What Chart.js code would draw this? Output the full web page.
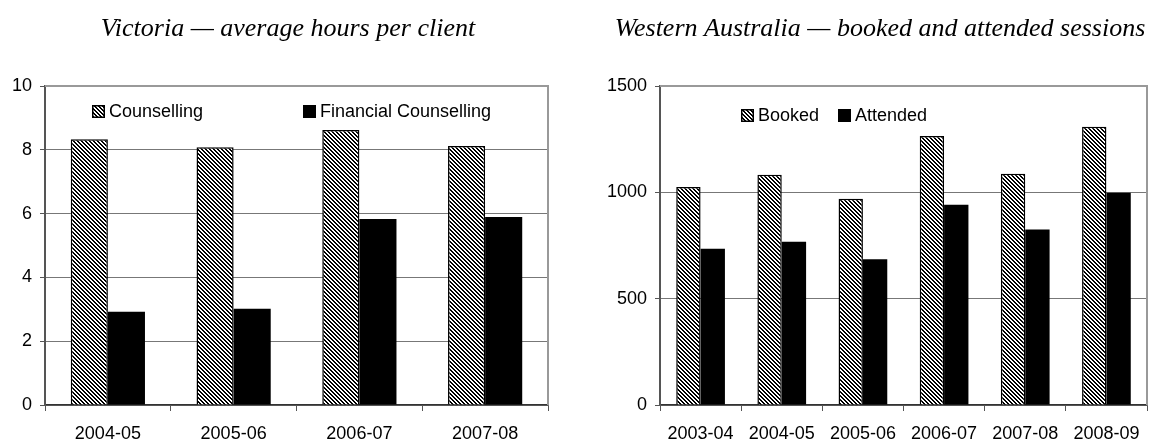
<!DOCTYPE html>
<html><head><meta charset="utf-8">
<script src="https://cdn.jsdelivr.net/npm/chart.js@4.4.0/dist/chart.umd.min.js"></script>
<style>
html,body{margin:0;padding:0;background:#fff;width:1152px;height:445px;overflow:hidden;}
#c1{position:absolute;left:0;top:0;}
#c2{position:absolute;left:576px;top:0;}
</style></head><body>
<canvas id="c1" width="576" height="445"></canvas>
<canvas id="c2" width="576" height="445"></canvas>
<script>
const vicCategories = ['2004-05','2005-06','2006-07','2007-08'];
const vicCounselling = [8.33, 8.08, 8.62, 8.12];
const vicFinancial = [2.92, 3.02, 5.83, 5.89];
const vicTicks = [0, 2, 4, 6, 8, 10];
const vicTitle = 'Victoria — average hours per client';
const vicLabels = ['Counselling', 'Financial Counselling'];

const waCategories = ['2003-04','2004-05','2005-06','2006-07','2007-08','2008-09'];
const waBooked = [1025, 1083, 970, 1265, 1087, 1308];
const waAttended = [735, 768, 685, 942, 825, 998];
const waTicks = [0, 500, 1000, 1500];
const waTitle = 'Western Australia — booked and attended sessions';
const waLabels = ['Booked', 'Attended'];

const SANS = '"Liberation Sans", Arial, sans-serif';
const SERIF = '"Liberation Serif", "Times New Roman", serif';

function hatch(ctx){
  const c = document.createElement('canvas'); c.width = 4; c.height = 4;
  const x = c.getContext('2d'); const img = x.createImageData(4,4);
  for (let j=0;j<4;j++) for (let i=0;i<4;i++){
    const k=(j*4+i)*4; const black=((i-j)%4+4)%4<2; const v=black?0:255;
    img.data[k]=v; img.data[k+1]=v; img.data[k+2]=v; img.data[k+3]=255;
  }
  x.putImageData(img,0,0);
  return ctx.createPattern(c,'repeat');
}

const framePlugin = {
  id: 'frame',
  beforeDatasetsDraw(chart){
    const {ctx, chartArea:a} = chart;
    ctx.save(); ctx.strokeStyle = '#999'; ctx.lineWidth = 2;
    ctx.beginPath(); ctx.moveTo(a.left, a.top); ctx.lineTo(a.right, a.top); ctx.lineTo(a.right, a.bottom); ctx.stroke();
    ctx.restore();
  }
};

const titlePlugin = {
  id: 'sideTitle',
  afterDraw(chart, args, opts){
    const ctx = chart.ctx; ctx.save();
    ctx.font = 'italic 26px ' + SERIF; ctx.fillStyle = '#000';
    ctx.textAlign = 'center'; ctx.textBaseline = 'alphabetic';
    ctx.fillText(opts.text, opts.cx, opts.baseline);
    ctx.restore();
  }
};

const legendPlugin = {
  id: 'inLegend',
  afterDraw(chart, args, opts){
    const ctx = chart.ctx; ctx.save();
    ctx.font = '18px ' + SANS; ctx.textBaseline = 'middle';
    chart.data.datasets.forEach((ds,i)=>{
      const x = opts.xs[i], y = opts.y;
      ctx.fillStyle = ds.backgroundColor; ctx.fillRect(x, y, 13, 13);
      ctx.lineWidth = 1.5; ctx.strokeStyle = '#000'; ctx.strokeRect(x+0.75, y+0.75, 11.5, 11.5);
      ctx.fillStyle = '#000'; ctx.fillText(ds.label, x+17, y+7);
    });
    ctx.restore();
  }
};

function makeChart(id, cats, s1, s2, labels, ticks, title, titleCx, legendXs, legendY, padLeft, axisWidth, padRight, catPct){
  const cv = document.getElementById(id);
  const ctx = cv.getContext('2d');
  return new Chart(ctx, {
    type: 'bar',
    data: {
      labels: cats,
      datasets: [
        {label: labels[0], data: s1, backgroundColor: hatch(ctx), borderColor: '#000', borderWidth: 1.5,
         categoryPercentage: catPct, barPercentage: 1},
        {label: labels[1], data: s2, backgroundColor: '#000', borderWidth: 0,
         categoryPercentage: catPct, barPercentage: 1}
      ]
    },
    options: {
      responsive: false, animation: false, events: [], devicePixelRatio: 1,
      layout: {autoPadding: false, padding: {left: padLeft, right: padRight, top: 86, bottom: 0}},
      plugins: {
        legend: {display: false}, tooltip: {enabled: false}, title: {display: false},
        sideTitle: {text: title, cx: titleCx, baseline: 36},
        inLegend: {xs: legendXs, y: legendY}
      },
      scales: {
        x: {
          grid: {display: true, offset: true, drawOnChartArea: false, tickLength: 6, color: '#555', lineWidth: 1},
          border: {display: true, color: '#333', width: 1.5},
          ticks: {color: '#000', font: {family: SANS, size: 18}, padding: 12, maxRotation: 0, autoSkip: false},
          afterFit(s){ s.height = 40; }
        },
        y: {
          min: ticks[0], max: ticks[ticks.length-1],
          afterBuildTicks(s){ s.ticks = ticks.map(v=>({value: v})); },
          grid: {color: '#777', lineWidth: 1, tickLength: 5, tickColor: '#555'},
          border: {display: true, color: '#555', width: 2},
          ticks: {color: '#000', font: {family: SANS, size: 18}, padding: 8, callback: v => String(v)},
          afterFit(s){ s.width = axisWidth; }
        }
      }
    },
    plugins: [framePlugin, legendPlugin, titlePlugin]
  });
}

makeChart('c1', vicCategories, vicCounselling, vicFinancial, vicLabels, vicTicks, vicTitle, 288, [92, 303], 105, 0, 45, 28, 0.59);
makeChart('c2', waCategories, waBooked, waAttended, waLabels, waTicks, waTitle, 304, [165, 262], 109, 20, 64, 5, 0.6);
</script>
</body></html>
